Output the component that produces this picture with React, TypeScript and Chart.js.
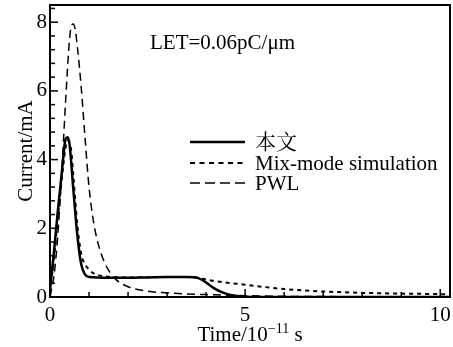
import React, { useEffect, useRef } from "react";
import { Chart, registerables } from "chart.js";

Chart.register(...registerables);

// Time axis values (10^-11 s) and currents (mA)
const solidT = [0, 0.1, 0.2, 0.3, 0.4, 0.45, 0.5, 0.6, 0.7, 0.8, 0.9, 1.0, 1.5, 2.0, 2.5, 3.0, 3.5, 3.8, 4.0, 4.2, 4.4, 4.6, 4.8, 5.0, 6.0, 8.0, 10.25];
const solidI = [0.2, 1.3, 2.5, 3.6, 4.6, 4.65, 4.45, 3.1, 1.8, 0.95, 0.65, 0.58, 0.56, 0.56, 0.57, 0.58, 0.58, 0.55, 0.42, 0.26, 0.14, 0.07, 0.03, 0.01, 0, 0, 0];

const mixT = [0, 0.1, 0.2, 0.3, 0.4, 0.45, 0.5, 0.55, 0.6, 0.7, 0.8, 0.9, 1.0, 1.1, 1.2, 1.4, 1.6, 2.0, 3.0, 3.6, 3.9, 4.2, 4.5, 5.0, 5.5, 6.0, 6.5, 7.0, 8.0, 9.0, 10.25];
const mixI = [0.15, 1.1, 2.3, 3.4, 4.35, 4.55, 4.5, 4.2, 3.5, 2.1, 1.25, 0.95, 0.8, 0.7, 0.65, 0.6, 0.58, 0.57, 0.58, 0.58, 0.53, 0.47, 0.42, 0.36, 0.29, 0.23, 0.19, 0.16, 0.12, 0.1, 0.08];

const pwlT = [0, 0.1, 0.2, 0.3, 0.4, 0.5, 0.55, 0.6, 0.65, 0.7, 0.8, 0.9, 1.0, 1.1, 1.2, 1.3, 1.4, 1.5, 1.7, 2.0, 2.5, 3.0, 3.5, 4.0, 5.0, 6.0, 8.0, 10.25];
const pwlI = [0, 0.6, 1.8, 3.6, 5.7, 7.5, 7.9, 7.95, 7.75, 7.3, 6.1, 4.6, 3.2, 2.3, 1.7, 1.3, 1.0, 0.78, 0.5, 0.3, 0.17, 0.12, 0.09, 0.07, 0.04, 0.02, 0.01, 0.01];

const seriesNames = ["本文", "Mix-mode simulation", "PWL"];
const annotation = "LET=0.06pC/\u03bcm";
const yTitle = "Current/mA";
const xTitleMain = "Time/10";
const xTitleSup = "\u221211";
const xTitleUnit = " s";

const xMajorTicks = [0, 5, 10];
const xMinorTicks = [1, 2, 3, 4, 6, 7, 8, 9];
const yMajorTicks = [0, 2, 4, 6, 8];
const yMinorTicks = [0.4, 0.8, 1.2, 1.6, 2.4, 2.8, 3.2, 3.6, 4.4, 4.8, 5.2, 5.6, 6.4, 6.8, 7.2, 7.6, 8.4];

const FONT = '"Liberation Serif", "Noto Serif CJK SC", "Noto Sans CJK SC", serif';
const FS = 21;

const toPoints = (t: number[], v: number[]) => t.map((x, i) => ({ x, y: v[i] }));

const decorPlugin = {
  id: "decor",
  afterDatasetsDraw(chart: any) {
    const { ctx, chartArea: a, scales } = chart;
    const x = scales.x;
    const y = scales.y;
    ctx.save();
    ctx.strokeStyle = "#000";
    ctx.fillStyle = "#000";
    ctx.lineWidth = 1.5;
    const vline = (px: number, len: number) => {
      ctx.beginPath();
      ctx.moveTo(px, a.bottom);
      ctx.lineTo(px, a.bottom - len);
      ctx.stroke();
    };
    const hline = (py: number, len: number) => {
      ctx.beginPath();
      ctx.moveTo(a.left, py);
      ctx.lineTo(a.left + len, py);
      ctx.stroke();
    };
    xMajorTicks.forEach((v) => vline(x.getPixelForValue(v), 8));
    xMinorTicks.forEach((v) => vline(x.getPixelForValue(v), 5));
    yMajorTicks.forEach((v) => hline(y.getPixelForValue(v), 8));
    yMinorTicks.forEach((v) => hline(y.getPixelForValue(v), 5));
    ctx.lineWidth = 2;
    ctx.strokeRect(a.left, a.top, a.right - a.left, a.bottom - a.top);

    ctx.font = `${FS}px ${FONT}`;
    ctx.textAlign = "left";
    ctx.textBaseline = "alphabetic";
    ctx.fillText(annotation, 150, 49);

    const ds = chart.data.datasets;
    const rows = [149, 170, 190];
    const lineY = [142, 163, 183];
    ds.forEach((d: any, i: number) => {
      ctx.save();
      ctx.lineWidth = d.borderWidth;
      ctx.setLineDash(d.legendDash || []);
      ctx.beginPath();
      ctx.moveTo(190, lineY[i]);
      ctx.lineTo(245, lineY[i]);
      ctx.stroke();
      ctx.restore();
      ctx.fillText(d.label, 255, rows[i]);
    });

    ctx.save();
    ctx.translate(32, (a.top + a.bottom) / 2);
    ctx.rotate(-Math.PI / 2);
    ctx.textAlign = "center";
    ctx.fillText(yTitle, 0, 0);
    ctx.restore();

    ctx.font = `${FS}px ${FONT}`;
    const w1 = ctx.measureText(xTitleMain).width;
    ctx.font = `14px ${FONT}`;
    const w2 = ctx.measureText(xTitleSup).width;
    ctx.font = `${FS}px ${FONT}`;
    const w3 = ctx.measureText(xTitleUnit).width;
    const total = w1 + w2 + w3;
    let sx = (a.left + a.right) / 2 - total / 2;
    const by = 341;
    ctx.textAlign = "left";
    ctx.fillText(xTitleMain, sx, by);
    sx += w1;
    ctx.font = `14px ${FONT}`;
    ctx.fillText(xTitleSup, sx, by - 8);
    sx += w2;
    ctx.font = `${FS}px ${FONT}`;
    ctx.fillText(xTitleUnit, sx, by);
    ctx.restore();
  },
};

export default function App() {
  const ref = useRef<HTMLCanvasElement | null>(null);
  useEffect(() => {
    document.body.style.margin = "0";
    const canvas = ref.current;
    if (!canvas) return;
    const chart = new Chart(canvas, {
      type: "line",
      data: {
        datasets: [
          {
            label: seriesNames[0],
            data: toPoints(solidT, solidI),
            borderColor: "#000",
            borderWidth: 2.5,
            pointRadius: 0,
            cubicInterpolationMode: "monotone",
            fill: false,
          } as any,
          {
            label: seriesNames[1],
            data: toPoints(mixT, mixI),
            borderColor: "#000",
            borderWidth: 2,
            borderDash: [4, 4],
            legendDash: [5, 4.5],
            pointRadius: 0,
            cubicInterpolationMode: "monotone",
            fill: false,
          } as any,
          {
            label: seriesNames[2],
            data: toPoints(pwlT, pwlI),
            borderColor: "#000",
            borderWidth: 1.5,
            borderDash: [8, 5],
            legendDash: [10, 5],
            pointRadius: 0,
            cubicInterpolationMode: "monotone",
            fill: false,
          } as any,
        ],
      },
      options: {
        animation: false,
        responsive: false,
        layout: { padding: { top: 5, right: 3, left: 0, bottom: 0 } },
        plugins: { legend: { display: false }, tooltip: { enabled: false }, title: { display: false } },
        scales: {
          x: {
            type: "linear",
            min: 0,
            max: 10.25,
            grid: { display: false, drawTicks: false },
            border: { display: false },
            ticks: {
              stepSize: 5,
              includeBounds: false,
              padding: 6,
              color: "#000",
              maxRotation: 0,
              font: { family: FONT, size: FS },
            },
            afterFit: (s: any) => {
              s.height = 50;
              s.paddingLeft = 0;
              s.paddingRight = 0;
            },
          },
          y: {
            type: "linear",
            min: 0,
            max: 8.5,
            grid: { display: false, drawTicks: false },
            border: { display: false },
            ticks: {
              stepSize: 2,
              includeBounds: false,
              padding: 3,
              color: "#000",
              font: { family: FONT, size: FS },
            },
            afterFit: (s: any) => {
              s.width = 50;
              s.paddingTop = 0;
              s.paddingBottom = 0;
            },
          },
        },
      },
      plugins: [decorPlugin],
    });
    return () => chart.destroy();
  }, []);
  return (
    <div style={{ position: "absolute", left: 0, top: 0, width: 453, height: 347 }}>
      <canvas ref={ref} width={453} height={347} style={{ display: "block" }} />
    </div>
  );
}
